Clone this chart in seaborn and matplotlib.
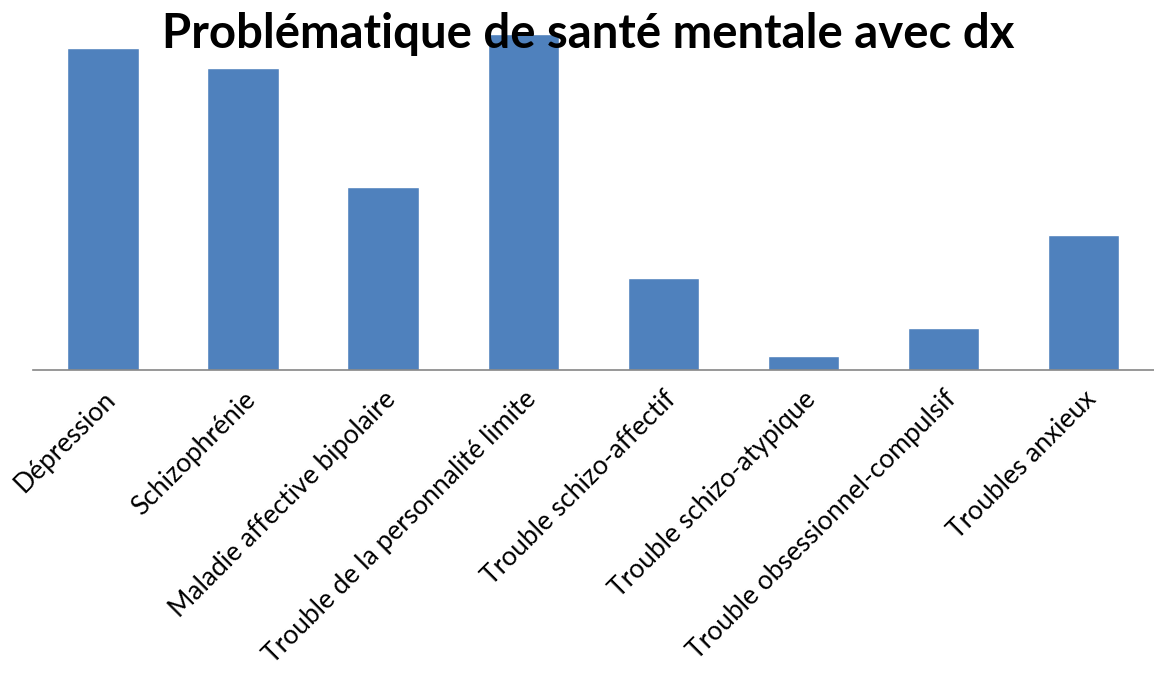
import matplotlib
matplotlib.use('Agg')
import matplotlib.pyplot as plt
import seaborn as sns

categories = ['Dépression', 'Schizophrénie', 'Maladie affective bipolaire',
              'Trouble de la personnalité limite', 'Trouble schizo-affectif',
              'Trouble schizo-atypique', 'Trouble obsessionnel-compulsif',
              'Troubles anxieux']
values = [322, 302, 183, 336, 92, 14, 42, 135]

sns.set_theme(style='white')
plt.rcParams['font.family'] = ['Lato', 'DejaVu Sans']

fig = plt.figure(figsize=(11.54, 6.75), dpi=100)
ax = fig.add_axes([0.0286, 0.452, 0.971, 0.498])

sns.barplot(x=categories, y=values, color='#4F81BD', saturation=1, width=0.51, ax=ax)

ax.set_ylim(0, 336)
ax.set_yticks([])
for s in ['top', 'right', 'left']:
    ax.spines[s].set_visible(False)
ax.spines['bottom'].set_color('#868686')
ax.spines['bottom'].set_linewidth(1.2)
ax.tick_params(axis='x', length=0, pad=12)
ax.set_xticks(range(len(categories)))
ax.set_xticklabels(categories, rotation=45, ha='right', rotation_mode='anchor',
                   fontsize=19, color='black')
ax.set_xlabel('')
ax.set_ylabel('')

fig.text(0.51, 0.929, 'Problématique de santé mentale avec dx', ha='center', va='baseline',
         fontsize=34, fontweight='bold', color='black')

fig.savefig('out.png', dpi=100)
